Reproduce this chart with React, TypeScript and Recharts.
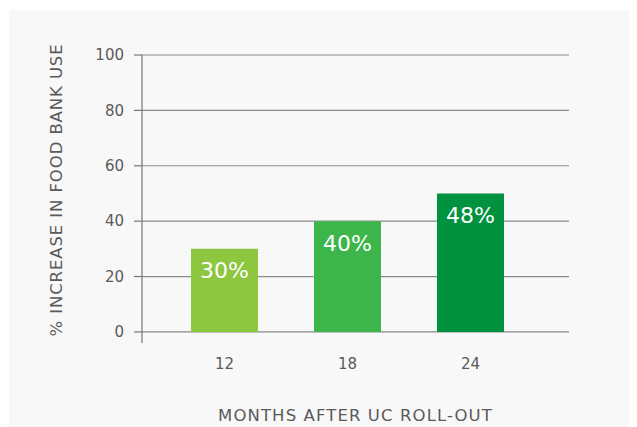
import React from 'react';
import { BarChart, Bar, XAxis, YAxis, CartesianGrid, Cell, LabelList, Label } from 'recharts';

const months = ['12', '18', '24'];
const increase = [30, 40, 50];
const valueLabels = ['30%', '40%', '48%'];
const barColors = ['#8dc63f', '#3cb54a', '#00923f'];
const yTicks = [0, 20, 40, 60, 80, 100];

const data = months.map((m, i) => ({ month: m, value: increase[i], label: valueLabels[i] }));

const FONT = '"DejaVu Sans", sans-serif';
const TEXT = '#5a5a5a';

export default function App() {
  return (
    <div style={{ marginLeft: 1, marginTop: 2, width: 628, height: 417, background: '#f8f8f8' }}>
      <BarChart width={628} height={417} data={data} margin={{ top: 45, right: 68, left: 0, bottom: 0 }}>
        <CartesianGrid vertical={false} horizontalValues={yTicks} stroke="#8a8a8a" strokeWidth={1.2} />
        <XAxis
          dataKey="month"
          axisLine={false}
          tickLine={false}
          tickSize={0}
          tickMargin={15}
          height={84}
          padding={{ left: 21, right: 37 }}
          tick={{ fill: TEXT, fontSize: 15, fontFamily: FONT }}
        >
          <Label
            value="MONTHS AFTER UC ROLL-OUT"
            position="insideBottom"
            offset={6}
            style={{ fill: TEXT, fontSize: 16.5, fontFamily: FONT, letterSpacing: 1.1 }}
          />
        </XAxis>
        <YAxis
          width={133}
          domain={[-4, 100]}
          ticks={yTicks}
          interval={0}
          axisLine={{ stroke: '#777', strokeWidth: 1.2 }}
          tickLine={{ stroke: '#777', strokeWidth: 1.2 }}
          tickSize={8}
          tickMargin={10}
          tick={{ fill: TEXT, fontSize: 15, fontFamily: FONT }}
        >
          <Label
            value="% INCREASE IN FOOD BANK USE"
            angle={-90}
            position="insideLeft"
            offset={47}
            dy={-9}
            style={{ fill: TEXT, fontSize: 16.5, fontFamily: FONT, textAnchor: 'middle', letterSpacing: 0.9 }}
          />
        </YAxis>
        <Bar dataKey="value" barSize={67} isAnimationActive={false}>
          {data.map((d, i) => (
            <Cell key={d.month} fill={barColors[i]} />
          ))}
          <LabelList
            dataKey="label"
            position="insideTop"
            offset={14}
            style={{ fill: '#ffffff', fontSize: 22, fontFamily: FONT }}
          />
        </Bar>
      </BarChart>
    </div>
  );
}
